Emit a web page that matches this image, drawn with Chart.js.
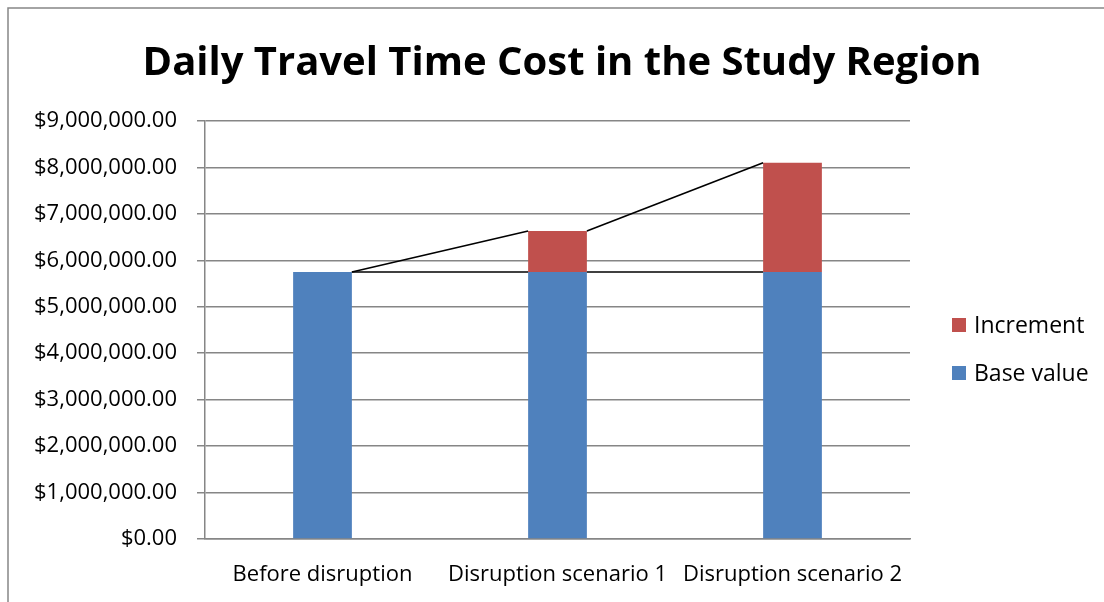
<!DOCTYPE html>
<html>
<head>
<meta charset="utf-8">
<title>Daily Travel Time Cost in the Study Region</title>
<script src="https://cdn.jsdelivr.net/npm/chart.js@4/dist/chart.umd.min.js"></script>
<style>
  html, body { margin: 0; padding: 0; background: #fff; }
  #wrap { width: 1104px; height: 602px; position: relative; }
</style>
</head>
<body>
<div id="wrap"><canvas id="chart" width="1104" height="602"></canvas></div>
<script>
const categories = ['Before disruption', 'Disruption scenario 1', 'Disruption scenario 2'];
const baseValue = [5750000, 5750000, 5750000];
const increment = [0, 880000, 2350000];
const yTicks = [0, 1000000, 2000000, 3000000, 4000000, 5000000, 6000000, 7000000, 8000000, 9000000];

const FONT = "'Open Sans', 'DejaVu Sans', sans-serif";
const GRID = '#868686';

function money(v) {
    return '$' + v.toLocaleString('en-US', { minimumFractionDigits: 2, maximumFractionDigits: 2 });
}

// outer frame of the chart object
const framePlugin = {
    id: 'frame',
    beforeDraw(chart) {
        const ctx = chart.ctx;
        ctx.save();
        ctx.fillStyle = '#fff';
        ctx.fillRect(0, 0, chart.width, chart.height);
        ctx.strokeStyle = GRID;
        ctx.lineWidth = 1.5;
        ctx.strokeRect(8, 8, chart.width + 20, chart.height + 20);
        ctx.restore();
    }
};

// series lines joining the top of each stack segment to the next bar
const seriesLines = {
    id: 'seriesLines',
    afterDatasetsDraw(chart) {
        const ctx = chart.ctx;
        ctx.save();
        ctx.strokeStyle = '#000';
        ctx.lineWidth = 1.6;
        chart.data.datasets.forEach(function(ds, i) {
            const bars = chart.getDatasetMeta(i).data;
            for (let k = 0; k < bars.length - 1; k++) {
                const a = bars[k], b = bars[k + 1];
                ctx.beginPath();
                ctx.moveTo(a.x + a.width / 2, a.y);
                ctx.lineTo(b.x - b.width / 2, b.y);
                ctx.stroke();
            }
        });
        ctx.restore();
    }
};

// legend on the right, top series listed first
const sideLegend = {
    id: 'sideLegend',
    afterDraw(chart) {
        const ctx = chart.ctx;
        const items = chart.data.datasets.slice().reverse();
        ctx.save();
        ctx.font = '23px ' + FONT;
        ctx.textBaseline = 'middle';
        items.forEach(function(ds, i) {
            const y = 325 + i * 48;
            ctx.fillStyle = ds.backgroundColor;
            ctx.fillRect(952, y - 7, 14, 14);
            ctx.fillStyle = '#000';
            ctx.fillText(ds.label, 974, y + 1);
        });
        ctx.restore();
    }
};

new Chart(document.getElementById('chart'), {
    type: 'bar',
    data: {
        labels: categories,
        datasets: [{
            label: 'Base value',
            data: baseValue,
            backgroundColor: '#4F81BD'
        }, {
            label: 'Increment',
            data: increment,
            backgroundColor: '#C0504D'
        }]
    },
    options: {
        responsive: false,
        animation: false,
        layout: {
            padding: { left: 20, right: 0, top: 0, bottom: 0 }
        },
        datasets: {
            bar: { categoryPercentage: 1, barPercentage: 0.25 }
        },
        plugins: {
            legend: { display: false },
            tooltip: { enabled: false },
            title: {
                display: true,
                text: 'Daily Travel Time Cost in the Study Region',
                color: '#000',
                font: { family: FONT, size: 40, weight: 'bold' },
                padding: { top: 40, bottom: 33 }
            }
        },
        scales: {
            x: {
                stacked: true,
                grid: { display: false, drawTicks: false },
                border: { color: GRID, width: 1.5 },
                ticks: { color: '#000', font: { family: FONT, size: 22 }, padding: 23, maxRotation: 0, autoSkip: false },
                afterFit(scale) { scale.height = 63; }
            },
            y: {
                stacked: true,
                min: 0,
                max: 9000000,
                afterBuildTicks(scale) { scale.ticks = yTicks.map(v => ({ value: v })); },
                grid: { color: GRID, lineWidth: 1.5, tickLength: 8 },
                border: { color: GRID, width: 1.5 },
                ticks: {
                    color: '#000',
                    font: { family: FONT, size: 22 },
                    padding: 20,
                    callback: v => money(v)
                },
                afterFit(scale) { scale.width = 185; }
            },
            // empty right-hand strip that holds the legend
            legendSpace: {
                type: 'linear',
                position: 'right',
                grid: { display: false },
                border: { display: false },
                ticks: { display: false },
                afterFit(scale) { scale.width = 194; }
            }
        }
    },
    plugins: [framePlugin, seriesLines, sideLegend]
});
</script>
</body>
</html>
